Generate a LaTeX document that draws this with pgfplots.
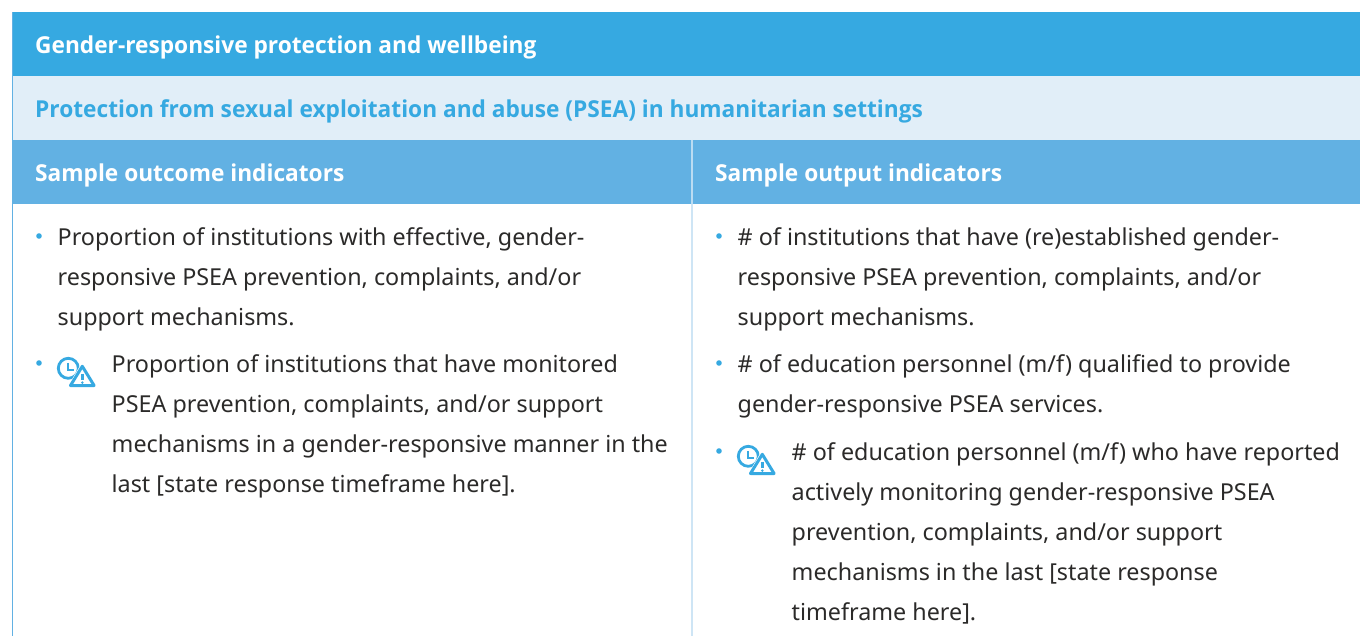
\documentclass[border=0pt]{standalone}
\usepackage{pgfplots}
\pgfplotsset{compat=1.18}
\usepackage{fontspec}
\setmainfont{Noto Sans}
\newfontfamily\headf[FakeStretch=0.974]{Open Sans}
\definecolor{topb}{HTML}{36A9E1}
\definecolor{lightb}{HTML}{E1EEF8}
\definecolor{headb}{HTML}{62B1E3}
\definecolor{bodyt}{HTML}{2B2A29}
\newcommand\body{\fontsize{23.32}{28}\selectfont}
\newcommand\head{\fontsize{23.3}{28}\selectfont\headf\bfseries}
\newcommand\tl[3]{\node[anchor=base west,inner sep=0pt,text=bodyt] at (axis cs:#1,#2) {\strut\body #3};}
\newcommand\bul[2]{\node[circle,fill=topb,inner sep=0pt,minimum size=5.6pt] at (axis cs:#1,#2) {};}
\newcommand\icon[2]{%
\begin{scope}[shift={(axis cs:#1,#2)},x=1pt,y=-1pt]
\draw[topb,line width=2.8pt] (0,0) circle (10pt);
\draw[topb,line width=2pt] (0,-5.5) -- (0,2) -- (6,2);
\fill[white,line join=round,draw=white,line width=3pt] (14,-3.5) -- (27,18.5) -- (1,18.5) -- cycle;
\draw[topb,line width=3pt,line join=round,fill=white] (14,-2) -- (25.8,17.2) -- (2.2,17.2) -- cycle;
\draw[topb,line width=2.4pt] (14,5.5) -- (14,11.5);
\fill[topb] (14,14.3) circle (1.4pt);
\end{scope}}
\begin{document}
\begin{tikzpicture}
\begin{axis}[
  scale only axis,width=1360pt,height=636pt,
  xmin=0,xmax=1360,ymin=0,ymax=636,y dir=reverse,
  hide axis,clip=false]
\path[use as bounding box] (axis cs:0,0) rectangle (axis cs:1360,636);
\addplot[fill=topb,draw=none] coordinates {(12,12)(1360,12)(1360,76)(12,76)} -- cycle;
\addplot[fill=lightb,draw=none] coordinates {(12,76)(1360,76)(1360,140)(12,140)} -- cycle;
\addplot[fill=headb,draw=none] coordinates {(12,140)(1360,140)(1360,204)(12,204)} -- cycle;
\addplot[draw=headb,line width=1.6pt] coordinates {(12.5,12)(12.5,636)};
\addplot[draw=lightb!70!headb,line width=1.6pt] coordinates {(691.8,140)(691.8,204)};
\addplot[draw=lightb!85!headb,line width=1.6pt] coordinates {(691.8,204)(691.8,636)};
\node[anchor=base west,inner sep=0pt,text=white] at (axis cs:35,53.7) {\head Gender-responsive protection and wellbeing};
\node[anchor=base west,inner sep=0pt,text=topb] at (axis cs:35,117.7) {\head Protection from sexual exploitation and abuse (PSEA) in humanitarian settings};
\node[anchor=base west,inner sep=0pt,text=white] at (axis cs:35,181.7) {\head Sample outcome indicators};
\node[anchor=base west,inner sep=0pt,text=white] at (axis cs:715,181.7) {\head Sample output indicators};
\bul{39}{236}
\tl{57.5}{245.7}{Proportion of institutions with effective, gender-}
\tl{57.5}{285.7}{responsive PSEA prevention, complaints, and/or}
\tl{57.5}{325.7}{support mechanisms.}
\bul{39}{363}
\icon{68.3}{368.3}
\tl{111.5}{372}{Proportion of institutions that have monitored}
\tl{111.5}{412}{PSEA prevention, complaints, and/or support}
\tl{111.5}{452}{mechanisms in a gender-responsive manner in the}
\tl{111.5}{492}{last [state response timeframe here].}
\bul{719}{236}
\tl{737.5}{245.7}{\# of institutions that have (re)established gender-}
\tl{737.5}{285.7}{responsive PSEA prevention, complaints, and/or}
\tl{737.5}{325.7}{support mechanisms.}
\bul{719}{363}
\tl{737.5}{372}{\# of education personnel (m/f) qualified to provide}
\tl{737.5}{412}{gender-responsive PSEA services.}
\bul{719}{451}
\icon{748.3}{456.3}
\tl{791.5}{460}{\# of education personnel (m/f) who have reported}
\tl{791.5}{500}{actively monitoring gender-responsive PSEA}
\tl{791.5}{540}{prevention, complaints, and/or support}
\tl{791.5}{580}{mechanisms in the last [state response}
\tl{791.5}{620}{timeframe here].}
\end{axis}
\end{tikzpicture}
\end{document}
